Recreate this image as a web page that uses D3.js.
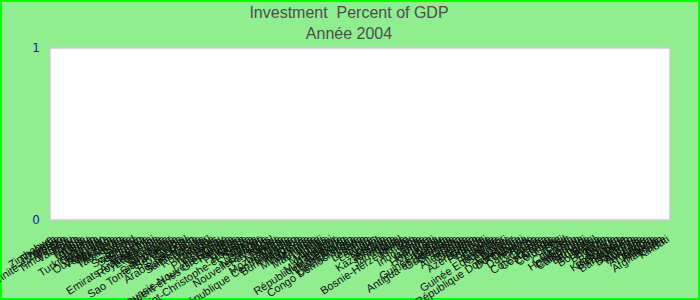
<!DOCTYPE html>
<html>
<head>
<meta charset="utf-8">
<script src="https://cdn.jsdelivr.net/npm/d3@7"></script>
<style>
    body { margin: 0; padding: 0; background: #ffffff; }
    svg { display: block; font-family: "Liberation Sans", Arial, sans-serif; }
</style>
</head>
<body>
<svg id="chart"></svg>
<script>

// Countries, in the order in which the chart lists them
var countries = [
    "Zimbabwe", "Rwanda", "Zambie", "Trinité-et-Tobago", "Yémen", "Timor-Leste", "Vanuatu", "Togo",
    "Tonga", "Tunisie", "Turquie", "Tuvalu", "Ukraine", "Turkménistan", "Ouganda", "Uruguay",
    "Ouzbékistan", "Venezuela", "Viet Nam", "Tanzanie", "Thaïlande", "Tadjikistan", "Syrie", "Suisse",
    "Suède", "Swaziland", "Suriname", "Soudan", "Sri Lanka", "Espagne", "Emirats Arabes Unis", "Royaume-Uni",
    "Etats-Unis", "Somalie", "Slovénie", "Slovaquie", "Singapour", "Sierra Leone", "Sao Tomé-et-Principe", "Seychelles",
    "Serbie", "Sénégal", "Arabie Saoudite", "Saint-Marin", "Sainte-Lucie", "Russie", "Roumanie", "Qatar",
    "Portugal", "Pologne", "Philippines", "Pérou", "Paraguay", "Papouasie-Nouvelle-Guinée", "Saint-Vincent-et-les Grenadines", "Panama",
    "Palaos", "Pakistan", "Oman", "Norvège", "Saint-Christophe-et-Niévès", "Samoa", "Nigeria", "Niger",
    "Nicaragua", "Nouvelle-Zélande", "Pays-Bas", "Népal", "Nauru", "Namibie", "Mozambique", "Maroc",
    "République Centrafricaine", "Mongolie", "Burkina Faso", "Monaco", "Moldavie", "Micronésie", "Mexique", "Maurice",
    "Mauritanie", "Malte", "Mali", "Maldives", "Malaisie", "Malawi", "Madagascar", "République Tchèque",
    "Macédoine", "Luxembourg", "Lituanie", "Liechtenstein", "Congo Démocratique", "Libye", "Libéria", "Lesotho",
    "Liban", "Lettonie", "Laos", "Koweït", "Kenya", "Kazakhstan", "Jordanie", "Japon",
    "Jamaïque", "Italie", "Israël", "Bosnie-Herzégovine", "Irlande", "Irak", "Iran", "Indonésie",
    "Inde", "Islande", "Hongrie", "Honduras", "Haïti", "Guyana", "Guinée-Bissau", "Guinée",
    "Antigua-et-Barbuda", "Guatemala", "Grenade", "Grèce", "Ghana", "Allemagne", "Géorgie", "Gambie",
    "Gabon", "Azerbaïdjan", "France", "Finlande", "Fidji", "Ethiopie", "Estonie", "Erythrée",
    "Guinée Equatoriale", "Salvador", "Brunei", "Egypte", "Equateur", "République Dominicaine", "Dominique", "Djibouti",
    "Algérie", "Danemark", "Chypre", "Cuba", "Croatie", "Côte d'Ivoire", "Costa Rica", "Congo",
    "Comores", "Colombie", "Chine", "Chili", "Tchad", "Cap-Vert", "Canada", "Hong-Kong",
    "Cameroun", "Cambodge", "Burundi", "Birmanie", "Bulgarie", "Brésil", "Botswana", "Bolivie",
    "Bhoutan", "Bénin", "Belize", "Belgique", "Kirghizistan", "Biélorussie", "Barbade", "Bangladesh",
    "Bahreïn", "Bahamas", "Autriche", "Australie", "Arménie", "Argentine", "Angola", "Andorre",
    "Albanie", "Afghanistan", "Corée", "Kiribati"
]

// Investment (% of GDP) for 2004 : no value is shown in the picture
var values = {}

var y_ticks = [0, 1]

var title = "Investment\u00a0 Percent of GDP"
var subtitle = "Année 2004"

// size of the picture
var width = 700, height = 300
var plot = {left: 50, right: 670, top: 48, bottom: 220}

var svg = d3.select("#chart")
    .attr("width", width)
    .attr("height", height)

// background and green frame
svg.append("rect")
    .attr("x", 1)
    .attr("y", 1)
    .attr("width", width - 2)
    .attr("height", height - 2)
    .attr("fill", "#90ee90")
    .attr("stroke", "#00ff00")
    .attr("stroke-width", 2)

// plot area
svg.append("rect")
    .attr("x", plot.left)
    .attr("y", plot.top)
    .attr("width", plot.right - plot.left)
    .attr("height", plot.bottom - plot.top)
    .attr("fill", "#ffffff")
    .attr("stroke", "#cccccc")
    .attr("stroke-width", 1.5)

// scales
var xScale = d3.scaleBand()
    .domain(countries)
    .range([plot.left, plot.right])
    .padding(0.2)

var yScale = d3.scaleLinear()
    .domain([0, 1])
    .range([plot.bottom, plot.top])

// bars (only for the countries that have a value)
svg.append("g")
    .selectAll("rect")
    .data(countries.filter(function(c) { return values[c] != null }))
    .enter().append("rect")
    .attr("x", function(c) { return xScale(c) })
    .attr("y", function(c) { return yScale(values[c]) })
    .attr("width", xScale.bandwidth())
    .attr("height", function(c) { return yScale(0) - yScale(values[c]) })
    .attr("fill", "#4572a7")

// Y axis
var yAxis = svg.append("g")
    .attr("transform", "translate(" + (plot.left - 10) + ",0)")
    .call(d3.axisLeft(yScale).tickValues(y_ticks).tickSize(0).tickPadding(0).tickFormat(d3.format("d")))
yAxis.select(".domain").remove()
yAxis.selectAll("text")
    .attr("fill", "#1a1aa6")
    .style("font-size", "12px")
    .style("font-family", "'DejaVu Sans', sans-serif")

// X axis, labels rotated
var xAxis = svg.append("g")
    .attr("transform", "translate(0," + plot.bottom + ")")
    .call(d3.axisBottom(xScale).tickSize(0).tickPadding(0))
xAxis.select(".domain").remove()
xAxis.selectAll("text")
    .attr("y", 0)
    .attr("dy", 0)
    .attr("text-anchor", "end")
    .attr("transform", "translate(2,21) rotate(-33)")
    .attr("fill", "#111111")
    .style("font-size", "11px")
    .style("font-family", "'Liberation Sans', Arial, sans-serif")

// titles
svg.append("text")
    .attr("x", 349)
    .attr("y", 18)
    .attr("text-anchor", "middle")
    .attr("fill", "#4d4d4d")
    .style("font-size", "16px")
    .text(title)

svg.append("text")
    .attr("x", 349)
    .attr("y", 39)
    .attr("text-anchor", "middle")
    .attr("fill", "#4d4d4d")
    .style("font-size", "16px")
    .text(subtitle)

</script>
</body>
</html>
